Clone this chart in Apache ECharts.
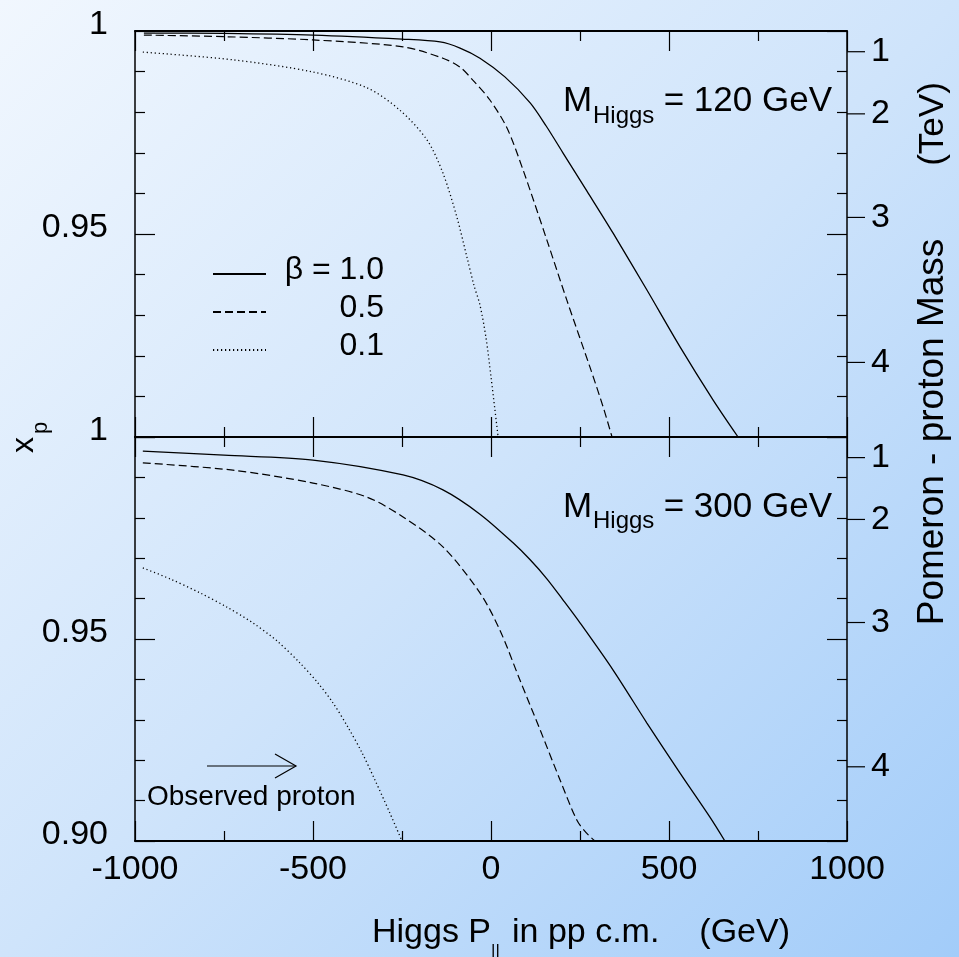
<!DOCTYPE html>
<html><head><meta charset="utf-8">
<script src="https://cdn.jsdelivr.net/npm/echarts@6/dist/echarts.min.js"></script>
<style>html,body{margin:0;padding:0;background:#fff}#c{width:959px;height:957px}</style>
</head><body><div id="c"></div>
<script>
// ---------- data ----------
const seriesNames = ['β = 1.0', '0.5', '0.1'];
// Top panel (M_Higgs = 120 GeV)
const top10P  = [-975, -750, -500, -250, -143, -87, -31, 39, 110, 155, 202, 270, 343, 438, 531, 624, 694];
const top10X  = [0.9995, 0.9994, 0.9990, 0.9980, 0.9973, 0.9958, 0.9933, 0.9887, 0.9823, 0.9766, 0.9700, 0.9605, 0.9502, 0.9362, 0.9222, 0.9091, 0.9000];
const top05P  = [-975, -750, -500, -247, -135, -87, -51, -3, 45, 90, 157, 213, 278, 315, 340];
const top05X  = [0.9990, 0.9986, 0.9978, 0.9961, 0.9933, 0.9911, 0.9879, 0.9830, 0.9761, 0.9658, 0.9485, 0.9337, 0.9172, 0.9074, 0.9000];
const top01P  = [-978, -725, -500, -348, -256, -180, -135, -96, -67, -48, -31, -14, 0, 11, 20];
const top01X  = [0.9948, 0.9929, 0.9899, 0.9860, 0.9805, 0.9732, 0.9650, 0.9542, 0.9441, 0.9374, 0.9325, 0.9244, 0.9148, 0.9067, 0.9000];
// Bottom panel (M_Higgs = 300 GeV)
const bot10P  = [-978, -750, -500, -247, -135, -31, 62, 110, 157, 202, 250, 343, 438, 531, 615, 657];
const bot10X  = [0.9965, 0.9955, 0.9943, 0.9906, 0.9869, 0.9809, 0.9738, 0.9696, 0.9649, 0.9597, 0.9540, 0.9423, 0.9292, 0.9168, 0.9059, 0.9000];
const bot05P  = [-978, -725, -500, -348, -247, -135, -31, 25, 81, 138, 194, 241, 268, 292];
const bot05X  = [0.9936, 0.9918, 0.9886, 0.9851, 0.9802, 0.9728, 0.9614, 0.9522, 0.9399, 0.9275, 0.9151, 0.9052, 0.9020, 0.9000];
const bot01P  = [-978, -902, -817, -742, -669, -601, -537, -486, -444, -402, -362, -326, -284, -250];
const bot01X  = [0.9676, 0.9649, 0.9614, 0.9579, 0.9540, 0.9495, 0.9441, 0.9391, 0.9342, 0.9282, 0.9218, 0.9151, 0.9069, 0.9000];
// Axes
const xMin = -1000, xMax = 1000, xStep = 500;
const yMin = 0.90, yMax = 1.0, yStep = 0.05;
const massTicks = [1, 2, 3, 4];   // TeV, right axis
const sqrtS = 14;                  // TeV
const massLabels = ['120', '300'];

// ---------- chart ----------
const FONT = '"Liberation Sans", Arial, sans-serif';
const BLACK = '#000';
const zip = (a, b) => a.map((v, i) => [v, b[i]]);
const styles = [
  { type: 'solid', width: 1.3 },
  { type: [8, 4], width: 1.2 },
  { type: [1.2, 2.8], width: 1.3 }
];

function xAxisDef(grid, position, labels) {
  return {
    type: 'value', gridIndex: grid, position, min: xMin, max: xMax, interval: xStep,
    axisLine: { show: true, onZero: false, lineStyle: { color: BLACK, width: 2 } },
    axisTick: { show: true, inside: true, length: 20, lineStyle: { color: BLACK, width: 1.2 } },
    minorTick: { show: true, splitNumber: 2, length: 10, lineStyle: { color: BLACK, width: 1.2 } },
    splitLine: { show: false }, minorSplitLine: { show: false },
    axisLabel: { show: labels, margin: 12, color: BLACK, fontSize: 34, fontFamily: FONT, formatter: v => String(v) }
  };
}
function yAxisDef(grid, position, labels, showMin) {
  return {
    type: 'value', gridIndex: grid, position, min: yMin, max: yMax, interval: yStep,
    axisLine: { show: true, onZero: false, lineStyle: { color: BLACK, width: 1.5 } },
    axisTick: { show: true, inside: true, length: 20, lineStyle: { color: BLACK, width: 1.2 } },
    minorTick: { show: true, splitNumber: 5, length: 10, lineStyle: { color: BLACK, width: 1.2 } },
    splitLine: { show: false }, minorSplitLine: { show: false },
    axisLabel: {
      show: labels, margin: 27, color: BLACK, fontSize: 34, fontFamily: FONT,
      verticalAlign: 'bottom', lineHeight: 12,
      formatter: v => {
        if (Math.abs(v - 1) < 1e-6) return '1';
        if (Math.abs(v - yMin) < 1e-6 && !showMin) return '';
        return v.toFixed(2);
      }
    }
  };
}
function lineSeries(name, P, X, xi, yi, st) {
  return {
    name, type: 'line', xAxisIndex: xi, yAxisIndex: yi, data: zip(P, X),
    symbol: 'none', smooth: 0.3, color: BLACK,
    lineStyle: { color: BLACK, width: st.width, type: st.type }
  };
}
function massSeries(xi, yi) {
  return {
    type: 'custom', coordinateSystem: 'cartesian2d', xAxisIndex: xi, yAxisIndex: yi,
    clip: false, silent: true, z: 5,
    data: massTicks.map(m => [xMax, 1 - Math.pow(m / sqrtS, 2), m]),
    renderItem: (params, api) => {
      const p = api.coord([api.value(0), api.value(1)]);
      return {
        type: 'group', children: [
          { type: 'line', shape: { x1: p[0], y1: p[1], x2: p[0] + 18, y2: p[1] },
            style: { stroke: BLACK, lineWidth: 1.2 } },
          { type: 'text', x: p[0] + 24, y: p[1],
            style: { text: String(api.value(2)), fill: BLACK, fontSize: 34, fontFamily: FONT,
                     align: 'left', verticalAlign: 'middle' } }
        ]
      };
    }
  };
}
function txt(x, y, text, size, extra) {
  return Object.assign({ type: 'text', x, y, silent: true,
    style: Object.assign({ text, fill: BLACK, fontSize: size, fontFamily: FONT,
      align: 'left', verticalAlign: 'middle' }, (extra && extra.style) || {}) },
    extra && extra.rotation ? { rotation: extra.rotation } : {});
}

const chart = echarts.init(document.getElementById('c'), null, { renderer: 'canvas' });
chart.setOption({
  animation: false,
  backgroundColor: {
    type: 'linear', x: 0, y: 0, x2: 1, y2: 1,
    colorStops: [{ offset: 0, color: '#f1f7fe' }, { offset: 0.5, color: '#cfe4fb' }, { offset: 1, color: '#a2ccf9' }]
  },
  grid: [
    { left: 135, right: 112, top: 31, height: 406, outerBoundsMode: 'none' },
    { left: 135, right: 112, top: 437, height: 404, outerBoundsMode: 'none' }
  ],
  xAxis: [xAxisDef(0, 'bottom', false), xAxisDef(0, 'top', false), xAxisDef(1, 'top', false), xAxisDef(1, 'bottom', true)],
  yAxis: [yAxisDef(0, 'left', true, false), yAxisDef(0, 'right', false, false), yAxisDef(1, 'left', true, true), yAxisDef(1, 'right', false, false)],
  legend: {
    orient: 'vertical', left: 207, top: 249, itemWidth: 53, itemHeight: 14, itemGap: 6,
    selectedMode: false, data: seriesNames,
    itemStyle: { color: 'rgba(0,0,0,0)', borderColor: 'rgba(0,0,0,0)', borderWidth: 0 },
    formatter: n => '{t|' + n + '}',
    textStyle: { rich: { t: { fontSize: 32, fontFamily: FONT, color: BLACK, width: 113, align: 'right', padding: [0, 0, 8, 0] } } }
  },
  series: [
    lineSeries(seriesNames[0], top10P, top10X, 0, 0, styles[0]),
    lineSeries(seriesNames[1], top05P, top05X, 0, 0, styles[1]),
    lineSeries(seriesNames[2], top01P, top01X, 0, 0, styles[2]),
    lineSeries(seriesNames[0], bot10P, bot10X, 3, 2, styles[0]),
    lineSeries(seriesNames[1], bot05P, bot05X, 3, 2, styles[1]),
    lineSeries(seriesNames[2], bot01P, bot01X, 3, 2, styles[2]),
    massSeries(0, 1),
    massSeries(3, 3)
  ],
  graphic: [
    txt(563, 101, 'M', 35), txt(593, 116, 'Higgs', 24), txt(832, 101, '= ' + massLabels[0] + ' GeV', 35, { style: { align: 'right' } }),
    txt(563, 507, 'M', 35), txt(593, 521, 'Higgs', 24), txt(832, 507, '= ' + massLabels[1] + ' GeV', 35, { style: { align: 'right' } }),
    txt(372, 933, 'Higgs P', 34), txt(491, 951, '||', 17), txt(512, 933, 'in pp c.m.', 34),
    txt(790, 933, '(GeV)', 34, { style: { align: 'right' } }),
    txt(24, 445, 'x', 32, { rotation: Math.PI / 2, style: { align: 'center' } }),
    txt(41, 428, 'p', 22, { rotation: Math.PI / 2, style: { align: 'center' } }),
    txt(933, 432, 'Pomeron - proton Mass', 37, { rotation: Math.PI / 2, style: { align: 'center' } }),
    txt(933, 124, '(TeV)', 35, { rotation: Math.PI / 2, style: { align: 'center' } }),
    txt(147, 797, 'Observed proton', 28),
    { type: 'polyline', silent: true, shape: { points: [[207, 766], [296, 766]] }, style: { stroke: BLACK, lineWidth: 1.2, fill: null } },
    { type: 'polyline', silent: true, shape: { points: [[275, 754], [296, 766], [275, 778]] }, style: { stroke: BLACK, lineWidth: 1.2, fill: null } }
  ]
});
</script>
</body></html>
